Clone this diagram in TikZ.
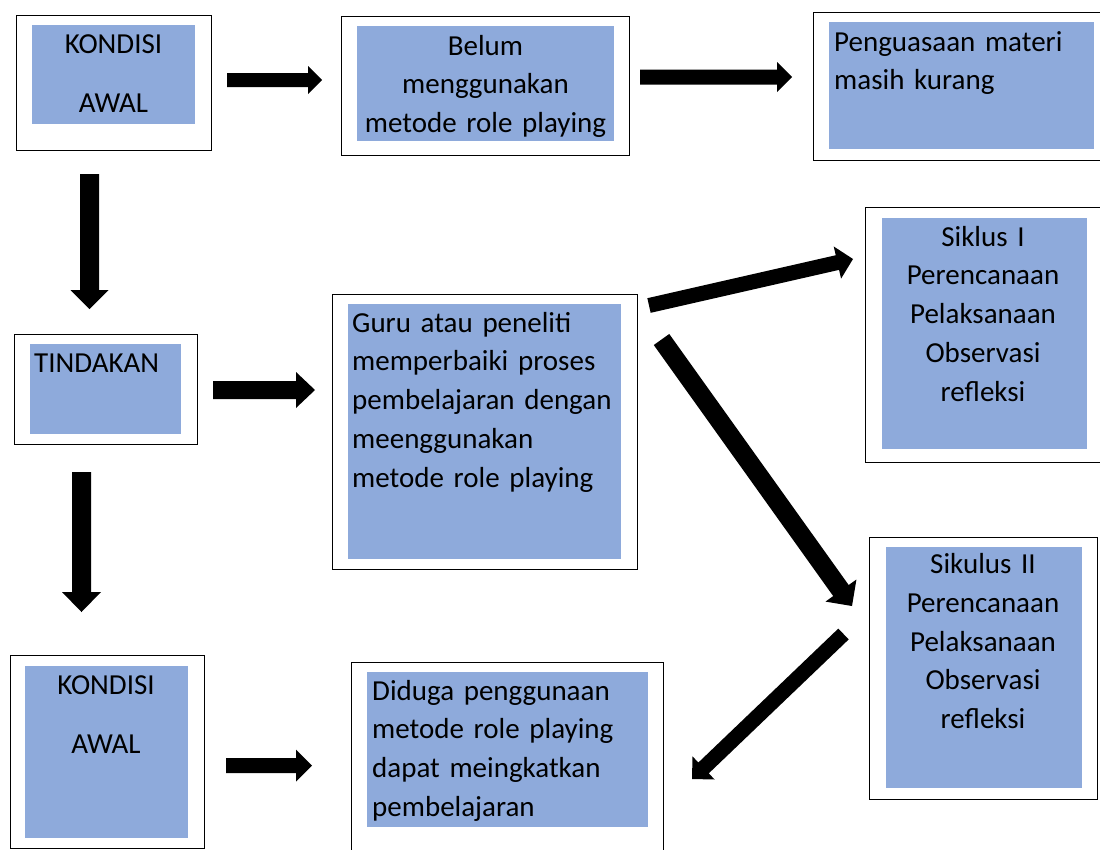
\documentclass[tikz,border=0pt]{standalone}
\usepackage{fontspec}
\setmainfont{Carlito}
\usetikzlibrary{calc}
\definecolor{boxblue}{HTML}{8EAADB}
\tikzset{
  outerbox/.style={draw=black, line width=1.3pt, fill=white, rectangle, inner sep=0pt, anchor=north west},
  innerbox/.style={fill=boxblue, draw=none, rectangle, inner sep=0pt, anchor=north west},
  ctext/.style={inner sep=0pt, anchor=base, text width=300pt, align=center, font=\fontsize{29}{38.8}\selectfont},
  ltext/.style={inner sep=0pt, anchor=base west, text width=400pt, align=left, font=\fontsize{29}{38.8}\selectfont},
  arrowfill/.style={fill=black, draw=none}
}
% tail, tip, shaft width, head width, head length
\newcommand{\blockarrow}[5]{%
  \coordinate (hb) at ($(#2)!#5!(#1)$);
  \fill[arrowfill] ($(#1)!0.5*#3!90:(#2)$) -- ($(hb)!0.5*#3!-90:(#1)$) -- ($(hb)!0.5*#4!-90:(#1)$) -- (#2)
    -- ($(hb)!0.5*#4!90:(#1)$) -- ($(hb)!0.5*#3!90:(#1)$) -- ($(#1)!0.5*#3!-90:(#2)$) -- cycle;
}
\begin{document}
\begin{tikzpicture}[x=1pt,y=-1pt]
\useasboundingbox (0,0) rectangle (1100,849);
\clip (0,0) rectangle (1100,849);
\fill[white] (0,0) rectangle (1100,849);

% boxes
\node[outerbox, minimum width=195pt, minimum height=135pt] (b1) at (16,15) {};
\node[innerbox, minimum width=163pt, minimum height=99pt] (b1i) at (32,25) {};
\node[ctext] (b1t) at (113.5,53.3) {KONDISI\\[20.6pt]AWAL};

\node[outerbox, minimum width=288pt, minimum height=139pt] (b2) at (341,16) {};
\node[innerbox, minimum width=257pt, minimum height=115pt] (b2i) at (357,26) {};
\node[ctext] (b2t) at (485.5,55) {Belum\\menggunakan\\metode role playing};

\node[outerbox, minimum width=290pt, minimum height=148pt] (b3) at (813,12) {};
\node[innerbox, minimum width=265pt, minimum height=127pt] (b3i) at (829,22) {};
\node[ltext] (b3t) at (834,51) {Penguasaan materi\\masih kurang};

\node[outerbox, minimum width=183pt, minimum height=110pt] (t) at (14,334) {};
\node[innerbox, minimum width=151pt, minimum height=90pt] (ti) at (30,344) {};
\node[ltext] (tt) at (34,372) {TINDAKAN};

\node[outerbox, minimum width=305pt, minimum height=275pt] (g) at (332,294) {};
\node[innerbox, minimum width=273pt, minimum height=255pt] (gi) at (348,304) {};
\node[ltext] (gt) at (352,332) {Guru atau peneliti\\memperbaiki proses\\pembelajaran dengan\\meenggunakan\\metode role playing};

\node[outerbox, minimum width=238pt, minimum height=255pt] (s1) at (865,207) {};
\node[innerbox, minimum width=205pt, minimum height=231pt] (s1i) at (882,218) {};
\node[ctext] (s1t) at (983,246) {Siklus I\\Perencanaan\\Pelaksanaan\\Observasi\\refleksi};

\node[outerbox, minimum width=228pt, minimum height=262pt] (s2) at (869,537) {};
\node[innerbox, minimum width=196pt, minimum height=241pt] (s2i) at (886,547) {};
\node[ctext] (s2t) at (983,573.5) {Sikulus II\\Perencanaan\\Pelaksanaan\\Observasi\\refleksi};

\node[outerbox, minimum width=194pt, minimum height=193pt] (k2) at (10,655) {};
\node[innerbox, minimum width=163pt, minimum height=172pt] (k2i) at (25,666) {};
\node[ctext] (k2t) at (106,694) {KONDISI\\[20.6pt]AWAL};

\node[outerbox, minimum width=312pt, minimum height=210pt] (d) at (351,662) {};
\node[innerbox, minimum width=281pt, minimum height=155pt] (di) at (367,672) {};
\node[ltext] (dt) at (372,700) {Diduga penggunaan\\metode role playing\\dapat meingkatkan\\pembelajaran};

% arrow end points
\coordinate (a1s) at (227,80);   \coordinate (a1e) at (322,80);
\coordinate (a2s) at (640,77);   \coordinate (a2e) at (792,77);
\coordinate (d1s) at (89.5,174); \coordinate (d1e) at (89.5,309);
\coordinate (d2s) at (81.5,472); \coordinate (d2e) at (81.5,612);
\coordinate (a3s) at (213,390);  \coordinate (a3e) at (315,390);
\coordinate (a4s) at (226,765.5);\coordinate (a4e) at (312,765.5);
\coordinate (das) at (649,305.5);\coordinate (dae) at (853,259);
\coordinate (dbs) at (661.5,339.5);\coordinate (dbe) at (852,606);
\coordinate (dcs) at (843.5,634);\coordinate (dce) at (692,779);

\blockarrow{a1s}{a1e}{14pt}{28pt}{14pt}
\blockarrow{a2s}{a2e}{15pt}{30pt}{15pt}
\blockarrow{d1s}{d1e}{19pt}{38pt}{19pt}
\blockarrow{d2s}{d2e}{19pt}{39pt}{20pt}
\blockarrow{a3s}{a3e}{18pt}{36pt}{19pt}
\blockarrow{a4s}{a4e}{15pt}{32pt}{16pt}
\blockarrow{das}{dae}{15pt}{33pt}{16pt}
\blockarrow{dbs}{dbe}{19pt}{38pt}{19pt}
\blockarrow{dcs}{dce}{15pt}{32pt}{16pt}
\end{tikzpicture}
\end{document}
